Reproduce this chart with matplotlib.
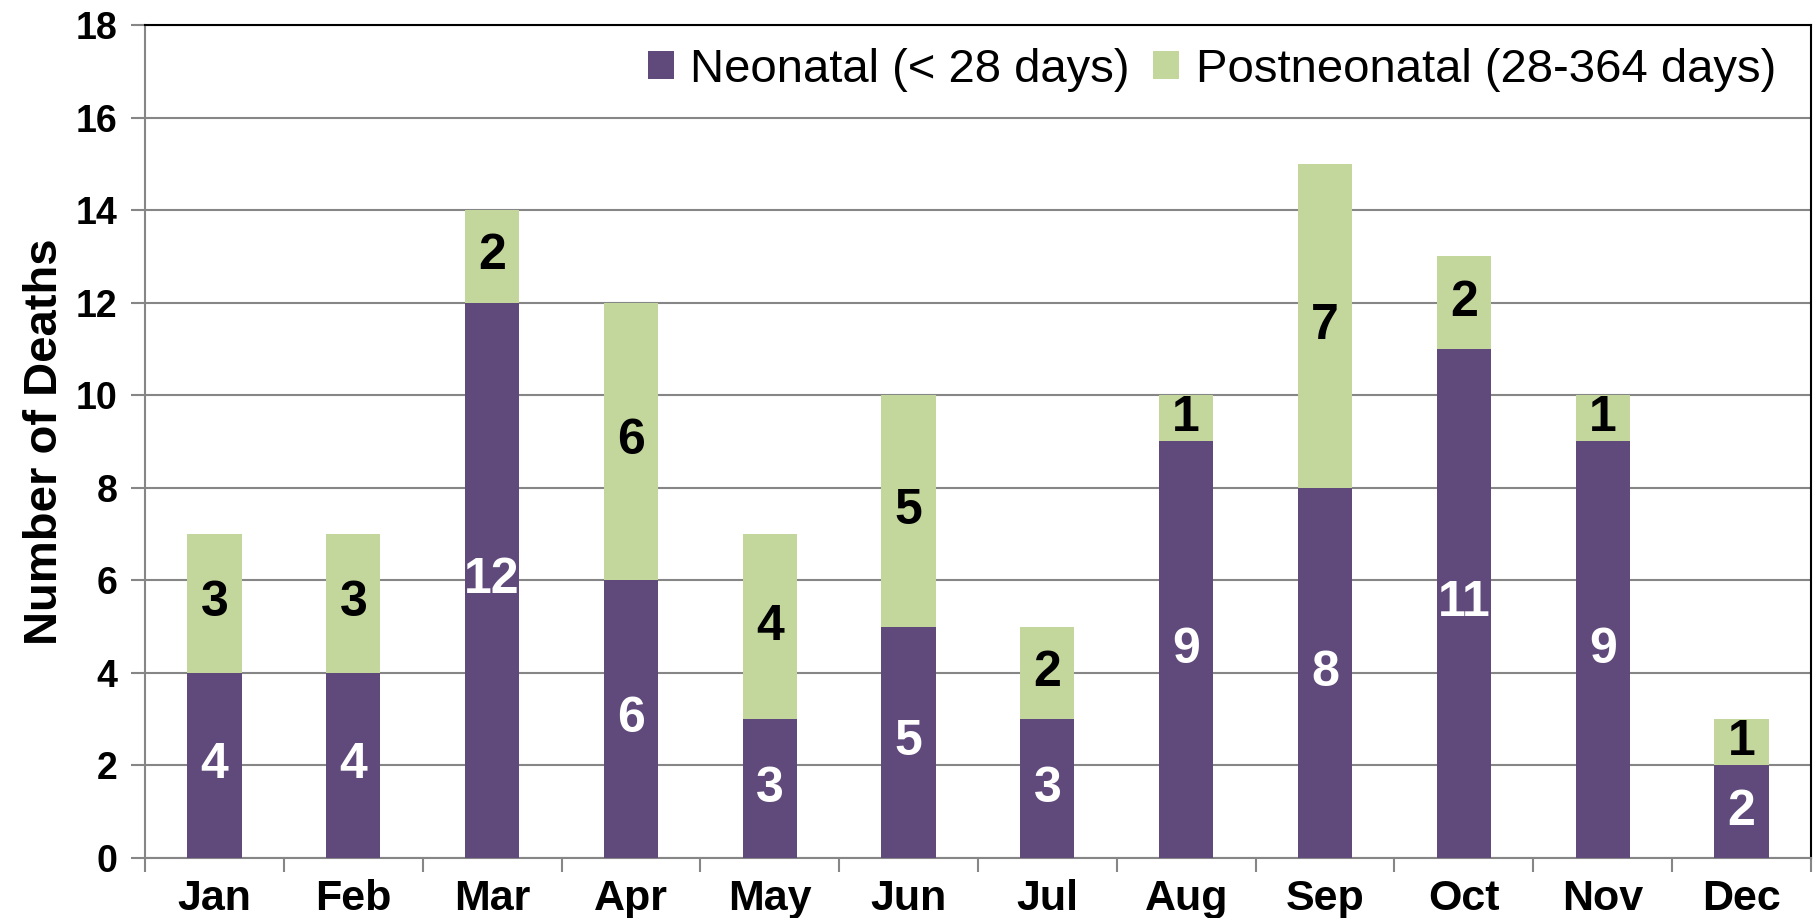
import numpy as np
import matplotlib.pyplot as plt

plt.rcParams['font.family'] = ['Liberation Sans', 'DejaVu Sans']

# datos
meses = ["Jan", "Feb", "Mar", "Apr", "May", "Jun", "Jul", "Aug", "Sep", "Oct", "Nov", "Dec"]
neonatal = [4, 4, 12, 6, 3, 5, 3, 9, 8, 11, 9, 2]
postneonatal = [3, 3, 2, 6, 4, 5, 2, 1, 7, 2, 1, 1]

morado = "#604A7B"
verde = "#C3D69B"
gris = "#868686"

fig = plt.figure(figsize=(18.2, 9.18), dpi=100)
ax = fig.add_axes([0.0797, 0.0654, 0.9153, 0.9074])

x = np.arange(len(meses))
b1 = ax.bar(x, neonatal, width=0.39, color=morado, zorder=3, label="Neonatal (< 28 days)")
b2 = ax.bar(x, postneonatal, width=0.39, bottom=neonatal, color=verde, zorder=3,
            label="Postneonatal (28-364 days)")

# etiquetas de las barras
ax.bar_label(b1, labels=[str(v) for v in neonatal], label_type="center",
             color="white", fontsize=36, fontweight="bold")
ax.bar_label(b2, labels=[str(v) for v in postneonatal], label_type="center",
             color="black", fontsize=36, fontweight="bold")

# ejes
ax.set_xlim(-0.5, 11.5)
ax.set_ylim(0, 18)
ax.set_yticks(np.arange(0, 19, 2))
ax.set_xticks(x)
ax.set_xticklabels(meses)
ax.set_xticks(np.arange(-0.5, 12, 1), minor=True)
ax.tick_params(axis="x", which="major", length=0, pad=15, labelsize=31)
ax.tick_params(axis="x", which="minor", length=10, width=1.5, color=gris, direction="out")
ax.tick_params(axis="y", length=10, width=1.5, color=gris, pad=10, labelsize=27)
for lbl in ax.get_xticklabels() + ax.get_yticklabels():
    lbl.set_fontweight("bold")

ax.grid(axis="y", color=gris, linewidth=1.5, zorder=0)
ax.spines["left"].set_color(gris)
ax.spines["bottom"].set_color(gris)
ax.spines["left"].set_linewidth(1.5)
ax.spines["bottom"].set_linewidth(1.5)
ax.spines["top"].set_color("black")
ax.spines["right"].set_color("black")
ax.spines["top"].set_linewidth(1.5)
ax.spines["right"].set_linewidth(1.5)

ax.set_ylabel("Number of Deaths", fontsize=34, fontweight="bold")
ax.yaxis.set_label_coords(-0.047, 0.5)

ax.legend(loc="center right", bbox_to_anchor=(0.979, 0.946), ncol=2, frameon=False,
          fontsize=34, handlelength=0.55, handleheight=0.55, handletextpad=0.35,
          columnspacing=0.5, borderpad=0, borderaxespad=0)

plt.savefig("out.png")
plt.close()
